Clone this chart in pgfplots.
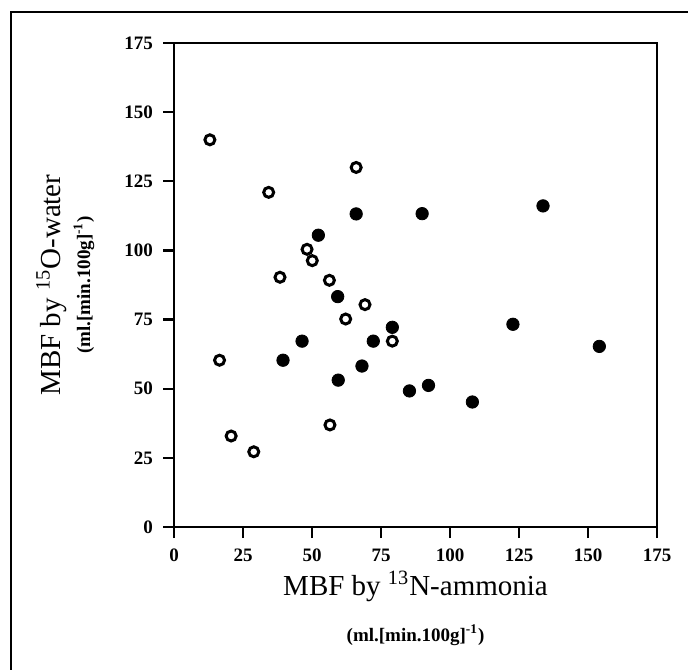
\documentclass[border=0pt]{standalone}
\usepackage{fontspec}
\setmainfont{Liberation Serif}
\usepackage{pgfplots}
\pgfplotsset{compat=1.18}

% MBF 15O-water vs 13N-ammonia
\begin{document}
\begin{tikzpicture}
\useasboundingbox (0,0) rectangle (344pt,334.5pt);
% outer frame (left and top edges only visible)
\draw[line width=1pt] (5.5pt,-2pt) -- (5.5pt,328.5pt) -- (346pt,328.5pt);
\begin{axis}[
  at={(87pt,71pt)}, anchor=south west,
  scale only axis,
  width=241.5pt, height=242pt,
  xmin=0, xmax=175, ymin=0, ymax=175,
  xtick={0,25,...,175}, ytick={0,25,...,175},
  xtick pos=left, ytick pos=left,
  tick align=outside,
  major tick length=5.5pt,
  axis line style={line width=1.2pt},
  every tick/.style={black, line width=1.2pt},
  tick label style={font=\fontsize{9.5}{11}\selectfont\bfseries},
  xticklabel style={yshift=-2pt},
  yticklabel style={xshift=-1.5pt},
  /pgf/number format/assume math mode=true,
  clip=false,
]
\addplot[only marks, mark=o, mark size=2.5pt, mark options={line width=1.5pt, black}]
  coordinates {(13,140) (34.3,121) (66,130) (48.2,100.4) (50.1,96.3) (38.4,90.3)
  (56.3,89.2) (69.2,80.4) (62.2,75.2) (79.1,67.2) (16.5,60.3) (20.7,32.9)
  (28.9,27.2) (56.5,36.9)};
\addplot[only marks, mark=*, mark size=3.1pt, mark options={black, fill=black}]
  coordinates {(66,113.2) (52.3,105.5) (59.3,83.3) (79.1,72.2) (46.4,67.2)
  (72.2,67.2) (39.5,60.3) (68.1,58.2) (59.5,53.1) (85.3,49.2) (89.9,113.3)
  (133.7,116.1) (92.2,51.2) (108.1,45.2) (122.8,73.3) (154.1,65.3)};
\end{axis}
\node[anchor=base, font=\fontsize{14.5}{16}\selectfont] at (207.75pt,37pt)
  {MBF by \textsuperscript{13}N-ammonia};
\node[anchor=base, font=\fontsize{9.5}{11}\selectfont\bfseries] at (207.75pt,14pt)
  {(ml.[min.100g]\textsuperscript{-1})};
\node[anchor=base, rotate=90, font=\fontsize{14.5}{16}\selectfont] at (30pt,192pt)
  {MBF by \textsuperscript{15}O-water};
\node[anchor=base, rotate=90, font=\fontsize{9.5}{11}\selectfont\bfseries] at (45pt,192pt)
  {(ml.[min.100g]\textsuperscript{-1})};
\end{tikzpicture}
\end{document}
